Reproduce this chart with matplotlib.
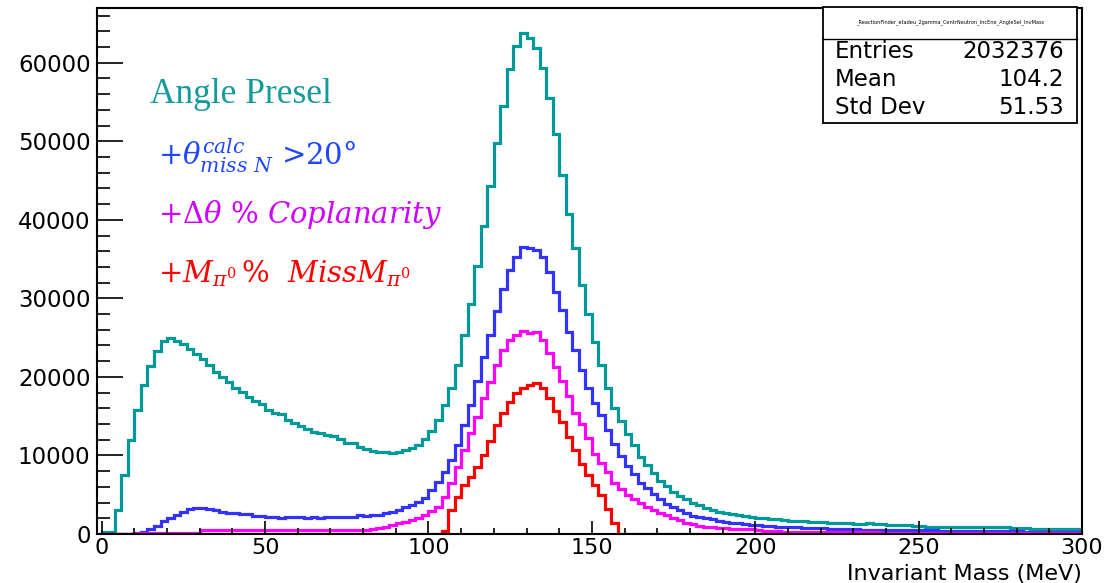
import matplotlib
matplotlib.use("Agg")
import matplotlib.pyplot as plt
from matplotlib.ticker import MultipleLocator, FuncFormatter
from matplotlib.patches import Rectangle
import numpy as np

# ---------------- data (2 MeV bins, 0-300 MeV) ----------------
bin_width = 2
x_min, x_max = 0, 300

angle_presel = [
    200, 200, 3050, 7500, 12000, 15800, 19000, 21400, 23350, 24600,
    24950, 24600, 24160, 23570, 22890, 22290, 21530, 20680, 19960, 19320,
    18640, 18130, 17490, 16940, 16500, 15800, 15370, 15250, 14520, 14180,
    13750, 13330, 13040, 12820, 12610, 12480, 12060, 11630, 11550, 11120,
    10790, 10610, 10480, 10480, 10360, 10480, 10700, 10990, 11300, 12100,
    13150, 14520, 16430, 18560, 21530, 25350, 29260, 34180, 39240, 44250,
    49770, 54430, 59190, 62080, 63780, 63150, 61870, 59320, 55500, 50900,
    45730, 40720, 36390, 31720, 27990, 24500, 21480, 18560, 16100, 14400,
    12780, 11300, 9850, 8790, 7730, 6800, 6100, 5400, 4850, 4400,
    3950, 3650, 3350, 3050, 2850, 2650, 2550, 2400, 2300, 2150,
    2100, 2050, 1950, 1880, 1800, 1700, 1650, 1600, 1580, 1520,
    1470, 1440, 1420, 1400, 1370, 1330, 1300, 1350, 1300, 1250,
    1180, 1150, 1200, 1150, 1050, 1000, 950, 950, 950, 920,
    900, 900, 900, 880, 880, 870, 860, 850, 850, 800,
    720, 720, 700, 700, 700, 700, 690, 690, 680, 680,
]

theta_miss = [
    0, 0, 0, 0, 0, 80, 200, 640, 1060, 1660,
    2080, 2420, 2840, 3150, 3270, 3270, 3150, 3020, 2840, 2630,
    2630, 2500, 2500, 2330, 2280, 2200, 2200, 2100, 2200, 2200,
    2200, 2100, 2200, 2100, 2200, 2200, 2200, 2200, 2200, 2400,
    2250, 2400, 2450, 2630, 2840, 3060, 3400, 3690, 4120, 4600,
    5600, 6660, 7940, 9430, 11340, 13890, 16430, 19500, 22500, 25350,
    28350, 31150, 33550, 35300, 36550, 36400, 36180, 35240, 33410, 30870,
    28540, 25780, 23440, 20890, 18560, 16650, 15100, 13200, 11500, 9950,
    8700, 7650, 6550, 5820, 5100, 4500, 3800, 3450, 3060, 2650,
    2350, 2210, 2000, 1870, 1700, 1570, 1440, 1360, 1270, 1200,
    1100, 1050, 1000, 950, 900, 880, 850, 800, 780, 760,
    720, 700, 680, 660, 640, 620, 560, 550, 540, 530,
    520, 510, 510, 500, 500, 490, 480, 470, 440, 430,
    420, 420, 410, 380, 370, 360, 350, 340, 330, 320,
    320, 310, 310, 300, 300, 300, 290, 290, 280, 280,
]

coplanarity = [
    0, 0, 0, 0, 0, 100, 170, 170, 170, 170,
    170, 170, 170, 170, 170, 550, 550, 550, 550, 550,
    550, 550, 550, 550, 550, 550, 550, 550, 550, 550,
    550, 550, 550, 550, 550, 550, 550, 550, 550, 550,
    550, 700, 800, 900, 1100, 1360, 1570, 1780, 2050, 2400,
    2900, 3480, 4750, 6450, 8580, 10700, 12820, 14940, 17280, 19400,
    21530, 23440, 24710, 25350, 25900, 25650, 25730, 24710, 23100, 21200,
    19500, 17600, 15400, 14000, 12200, 10200, 9000, 7940, 6500, 5700,
    5000, 4450, 3950, 3480, 3060, 2700, 2380, 2080, 1780, 1440,
    1230, 1060, 930, 900, 750, 720, 700, 600, 600, 580,
    450, 420, 420, 400, 300, 300, 280, 280, 260, 250,
    250, 220, 220, 210, 210, 200, 200, 200, 200, 190,
    190, 190, 180, 180, 180, 180, 170, 170, 170, 170,
    170, 160, 160, 160, 160, 160, 160, 150, 150, 150,
    150, 150, 150, 150, 150, 150, 150, 150, 150, 150,
]

miss_mass = [0] * 52 + [
    400, 3060, 4750, 6240, 7300, 8580, 10060, 11890, 13890, 15370,
    16860, 18000, 18600, 18980, 19190, 18560, 17320, 15700, 14310, 12400,
    10700, 8900, 7520, 6240, 4970, 3170, 1400,
] + [0] * 71

series = [
    (angle_presel, "#009999"),
    (theta_miss, "#3333ff"),
    (coplanarity, "#ff00ff"),
    (miss_mass, "#ff0000"),
]

stats_title = "_ReactionFinder_etadeu_2gamma_CentrNeutron_IncEne_AngleSel_InvMass"
stats_rows = [("Entries", "2032376"), ("Mean", "104.2"), ("Std Dev", "51.53")]
x_label = "Invariant Mass (MeV)"

# ---------------- figure ----------------
plt.rcParams["mathtext.fontset"] = "dejavuserif"
W, H = 1107, 583
fig = plt.figure(figsize=(W / 100, H / 100), dpi=100)


def P(px, py):
    return px / W, 1 - py / H


ax_left, ax_right, ax_top, ax_bottom = 97.5, 1082, 8, 534
ax = fig.add_axes([ax_left / W, 1 - ax_bottom / H, (ax_right - ax_left) / W, (ax_bottom - ax_top) / H])

edges = np.arange(x_min, x_max + bin_width, bin_width)
for vals, col in series:
    ax.stairs(vals, edges, color=col, linewidth=2.3, baseline=0)

ax.set_xlim(-1.3, 300)
ax.set_ylim(0, 66970)

ax.xaxis.set_major_locator(MultipleLocator(50))
ax.xaxis.set_minor_locator(MultipleLocator(10))
ax.yaxis.set_major_locator(MultipleLocator(10000))
ax.yaxis.set_minor_locator(MultipleLocator(2000))
ax.yaxis.set_major_formatter(FuncFormatter(lambda v, p: f"{int(v)}"))

ax.tick_params(axis="x", which="major", direction="in", length=9.5, width=1.2,
               labelsize=16, pad=3, top=False)
ax.tick_params(axis="x", which="minor", direction="in", length=4.5, width=1.2, top=False)
ax.tick_params(axis="y", which="major", direction="in", length=19, width=1.2,
               labelsize=16.5, pad=5, right=False)
ax.tick_params(axis="y", which="minor", direction="in", length=9, width=1.2, right=False)
for s in ax.spines.values():
    s.set_linewidth(1.5)

ax.set_xlabel(x_label, fontsize=16)
ax.xaxis.set_label_coords(1.0, -(574 - 534) / (ax_bottom - ax_top))
ax.xaxis.label.set_ha("right")
ax.xaxis.label.set_va("center")

# ---------------- annotations ----------------
fig.text(*P(150, 103), "Angle Presel", color="#139a9a", fontsize=25.5,
         family="Liberation Serif", va="baseline", ha="left")
fig.text(*P(158, 165), r"$+\theta^{calc}_{miss\ N}$ >20°", color="#1f48ff", fontsize=21,
         family="DejaVu Serif", va="baseline", ha="left")
fig.text(*P(158, 223), r"$+\Delta\theta\ \%\ Coplanarity$", color="#d000ff", fontsize=21,
         va="baseline", ha="left")
fig.text(*P(158, 282), r"$+M_{\pi^0}\,\%\ \ MissM_{\pi^0}$", color="#ff0000", fontsize=21,
         va="baseline", ha="left")

# ---------------- stats box ----------------
bx0, by0, bx1, by1 = 823, 7, 1077, 123
fig.patches.append(Rectangle(P(bx0, by1), (bx1 - bx0) / W, (by1 - by0) / H,
                             transform=fig.transFigure, facecolor="white",
                             edgecolor="black", linewidth=1.3, zorder=5))
fig.lines.append(plt.Line2D([bx0 / W, bx1 / W], [1 - 39 / H, 1 - 39 / H],
                            transform=fig.transFigure, color="black", linewidth=1.0, zorder=6))
fig.text(*P((bx0 + bx1) / 2, 22), stats_title, fontsize=3.6, ha="center", va="center", zorder=7)
for i, (k, v) in enumerate(stats_rows):
    yy = 52 + i * 28
    fig.text(*P(835, yy), k, fontsize=16.5, ha="left", va="center", zorder=7)
    fig.text(*P(1064, yy), v, fontsize=16.5, ha="right", va="center", zorder=7)

fig.savefig("out.png", dpi=100)
